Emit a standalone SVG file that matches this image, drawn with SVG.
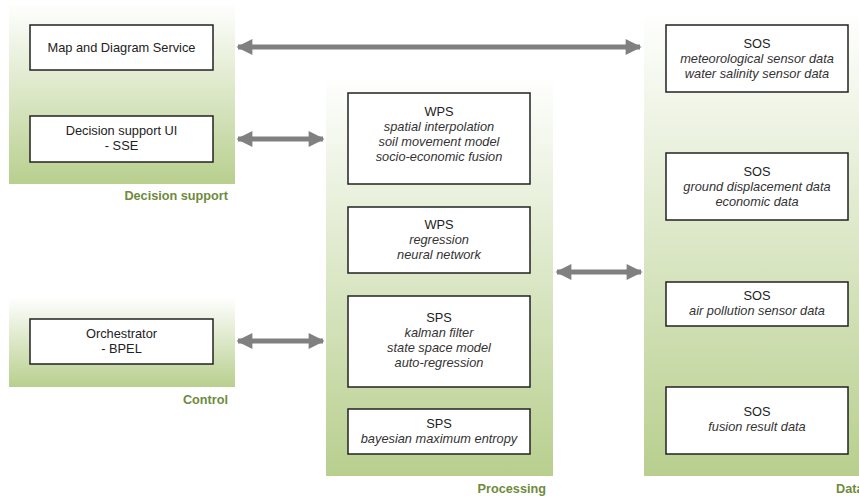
<svg xmlns="http://www.w3.org/2000/svg" width="859" height="496" viewBox="0 0 859 496">
<defs>
<linearGradient id="g" x1="0" y1="0" x2="0" y2="1">
<stop offset="0" stop-color="#ffffff"/>
<stop offset="1" stop-color="#b8cf8e"/>
</linearGradient>
<marker id="ah" viewBox="0 0 10 10" refX="9" refY="5" markerWidth="3.8" markerHeight="3.2" orient="auto-start-reverse" markerUnits="strokeWidth">
<path d="M0,0 L10,5 L0,10 z" fill="#808080"/>
</marker>
</defs>
<style>
.box{fill:#ffffff;stroke:#222222;stroke-width:1.5}
.t{font-family:"Liberation Sans",Arial,sans-serif;font-size:12.8px;fill:#222;text-anchor:middle}
.i{font-style:italic;fill:#333}
.lbl{font-family:"Liberation Sans",Arial,sans-serif;font-size:12.7px;font-weight:bold;fill:#6e8b3d;text-anchor:end}
.c{stroke:#808080;stroke-width:5;fill:none;marker-start:url(#ah);marker-end:url(#ah)}
</style>
<rect x="0" y="0" width="859" height="496" fill="#ffffff"/>
<g id="panels">
<rect x="9" y="3" width="226" height="181" fill="url(#g)"/>
<rect x="9" y="297" width="226" height="90" fill="url(#g)"/>
<rect x="326" y="75" width="227" height="401" fill="url(#g)"/>
<rect x="644" y="10" width="215" height="466" fill="url(#g)"/>
<text class="lbl" x="228" y="200">Decision support</text>
<text class="lbl" x="228" y="404">Control</text>
<text class="lbl" x="546" y="493">Processing</text>
<text class="lbl" x="836" y="493" style="text-anchor:start">Data</text>
</g>
<g id="connectors">
<line class="c" x1="238" y1="47" x2="640" y2="47"/>
<line class="c" x1="238" y1="139" x2="323" y2="139"/>
<line class="c" x1="238" y1="341" x2="323" y2="341"/>
<line class="c" x1="557" y1="272" x2="641" y2="272"/>
</g>
<g id="map">
<rect class="box" x="30" y="25" width="183" height="45"/>
<text class="t" x="121.5" y="52">Map and Diagram Service</text>
</g>
<g id="dsui">
<rect class="box" x="30" y="116" width="183" height="46"/>
<text class="t" x="121.5" y="135">Decision support UI</text>
<text class="t" x="121.5" y="150">- SSE</text>
</g>
<g id="orch">
<rect class="box" x="30" y="319" width="183" height="45"/>
<text class="t" x="121.5" y="338">Orchestrator</text>
<text class="t" x="121.5" y="353">- BPEL</text>
</g>
<g id="wps1">
<rect class="box" x="348" y="93" width="182" height="91"/>
<text class="t" x="439" y="116">WPS</text>
<text class="t i" x="439" y="131">spatial interpolation</text>
<text class="t i" x="439" y="146">soil movement model</text>
<text class="t i" x="439" y="161">socio-economic fusion</text>
</g>
<g id="wps2">
<rect class="box" x="348" y="207" width="182" height="66"/>
<text class="t" x="439" y="229">WPS</text>
<text class="t i" x="439" y="244">regression</text>
<text class="t i" x="439" y="259">neural network</text>
</g>
<g id="sps1">
<rect class="box" x="348" y="296" width="182" height="91"/>
<text class="t" x="439" y="322">SPS</text>
<text class="t i" x="439" y="337">kalman filter</text>
<text class="t i" x="439" y="352">state space model</text>
<text class="t i" x="439" y="367">auto-regression</text>
</g>
<g id="sps2">
<rect class="box" x="348" y="409" width="182" height="45"/>
<text class="t" x="439" y="428">SPS</text>
<text class="t i" x="439" y="443">bayesian maximum entropy</text>
</g>
<g id="sos1">
<rect class="box" x="666" y="25" width="182" height="67"/>
<text class="t" x="757" y="48">SOS</text>
<text class="t i" x="757" y="63">meteorological sensor data</text>
<text class="t i" x="757" y="78">water salinity sensor data</text>
</g>
<g id="sos2">
<rect class="box" x="666" y="153" width="182" height="67"/>
<text class="t" x="757" y="176">SOS</text>
<text class="t i" x="757" y="191">ground displacement data</text>
<text class="t i" x="757" y="206">economic data</text>
</g>
<g id="sos3">
<rect class="box" x="666" y="282" width="182" height="44"/>
<text class="t" x="757" y="300">SOS</text>
<text class="t i" x="757" y="315">air pollution sensor data</text>
</g>
<g id="sos4">
<rect class="box" x="666" y="387" width="182" height="67"/>
<text class="t" x="757" y="416">SOS</text>
<text class="t i" x="757" y="431">fusion result data</text>
</g>
</svg>
